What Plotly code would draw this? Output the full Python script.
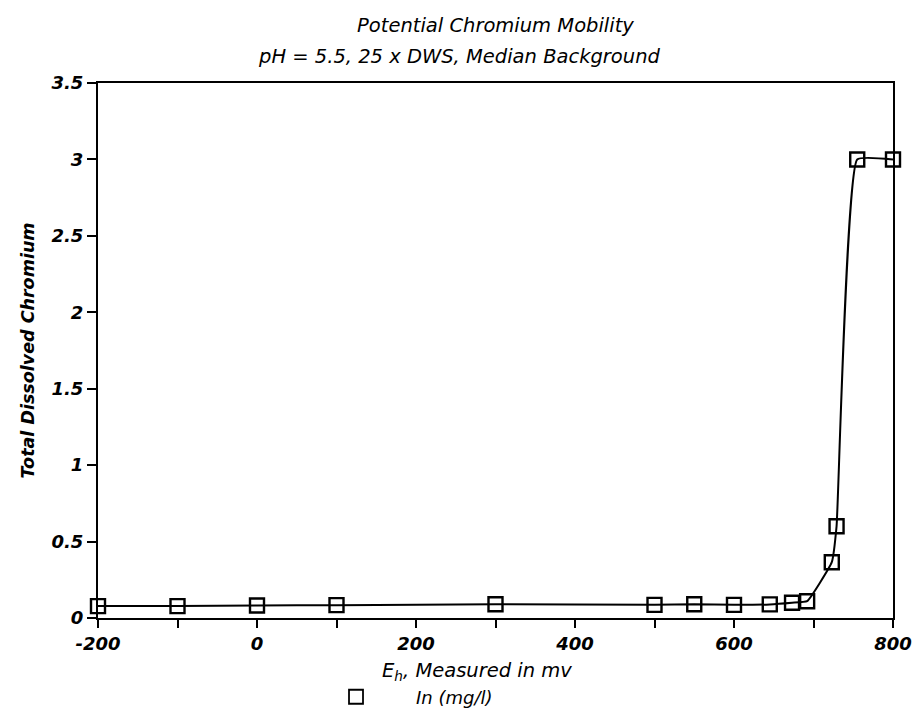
import plotly.graph_objects as go

# Data
eh_mv = [-200, -100, 0, 100, 300, 500, 550, 600, 645, 673, 692, 723, 729, 755, 800]
cr_mg_l = [0.078, 0.078, 0.082, 0.084, 0.09, 0.086, 0.09, 0.086, 0.089, 0.10, 0.11, 0.365, 0.60, 3.0, 3.0]

x_tick_vals = [-200, -100, 0, 100, 200, 300, 400, 500, 600, 700, 800]
x_tick_text = ["-200", "", "0", "", "200", "", "400", "", "600", "", "800"]
y_tick_vals = [0, 0.5, 1, 1.5, 2, 2.5, 3, 3.5]
y_tick_text = ["0", "0.5", "1", "1.5", "2", "2.5", "3", "3.5"]

title_line1 = "Potential Chromium Mobility"
title_line2 = "pH = 5.5, 25 x DWS, Median Background"
x_title = "E<sub>h</sub>, Measured in mv"
y_title = "Total Dissolved Chromium"
series_name = "In (mg/l)"

FONT = "DejaVu Sans, Liberation Sans, sans-serif"
W, H = 924, 728
L, R, T, B = 98, 21, 83, 90
PH = H - T - B


def py(pix):
    """paper y fraction for a pixel row"""
    return (H - B - pix) / PH


def px(pix):
    return (pix - L) / (W - L - R)


fig = go.Figure()
fig.add_trace(go.Scatter(
    x=eh_mv, y=cr_mg_l, mode="lines+markers",
    line=dict(color="black", width=2, shape="spline", smoothing=0.35),
    marker=dict(symbol="square-open", size=14, color="black", line=dict(width=2.4, color="black")),
    showlegend=False, cliponaxis=False,
))
fig.add_trace(go.Scatter(
    x=[None], y=[None], mode="markers", name="\u00a0" * 7 + series_name,
    marker=dict(symbol="square-open", size=14, color="black", line=dict(width=1.8, color="black")),
))

fig.update_layout(
    width=W, height=H,
    paper_bgcolor="white", plot_bgcolor="white",
    margin=dict(l=L, r=R, t=T, b=B),
    font=dict(family=FONT, color="black"),
    title=dict(
        text=title_line1, x=0.5, xanchor="center", xref="paper",
        yref="container", y=1 - 25 / H, yanchor="middle",
        font=dict(size=19.5, style="italic", family=FONT, color="black"),
    ),
    annotations=[
        dict(text=title_line2, xref="paper", yref="paper", x=px(464), y=py(55),
             xanchor="center", yanchor="middle", showarrow=False,
             font=dict(size=19.5, style="italic", family=FONT, color="black")),
        dict(text=x_title, xref="paper", yref="paper", x=px(482), y=py(693),
             xanchor="center", yanchor="middle", showarrow=False,
             font=dict(size=19.5, style="italic", family=FONT, color="black")),
    ],
    showlegend=True,
    legend=dict(orientation="h", x=px(339), xanchor="left", y=py(720), yanchor="middle",
                font=dict(size=18, style="italic", family=FONT), bgcolor="rgba(0,0,0,0)"),
)
fig.update_xaxes(
    range=[-200, 800], tickmode="array", tickvals=x_tick_vals, ticktext=x_tick_text,
    ticks="outside", ticklen=8, tickwidth=2, tickcolor="black",
    showline=True, linecolor="black", linewidth=2, mirror=True,
    showgrid=False, zeroline=False,
    tickfont=dict(size=18, style="italic", weight="bold", family=FONT),
)
fig.update_yaxes(
    range=[0, 3.5], tickmode="array", tickvals=y_tick_vals, ticktext=y_tick_text,
    ticks="outside", ticklen=9, tickwidth=2, tickcolor="black",
    showline=True, linecolor="black", linewidth=2, mirror=True,
    showgrid=False, zeroline=False,
    tickfont=dict(size=18, style="italic", weight="bold", family=FONT),
    title=dict(text=y_title, standoff=12,
               font=dict(size=17.5, style="italic", weight="bold", family=FONT)),
)

fig.write_html("out.html")
